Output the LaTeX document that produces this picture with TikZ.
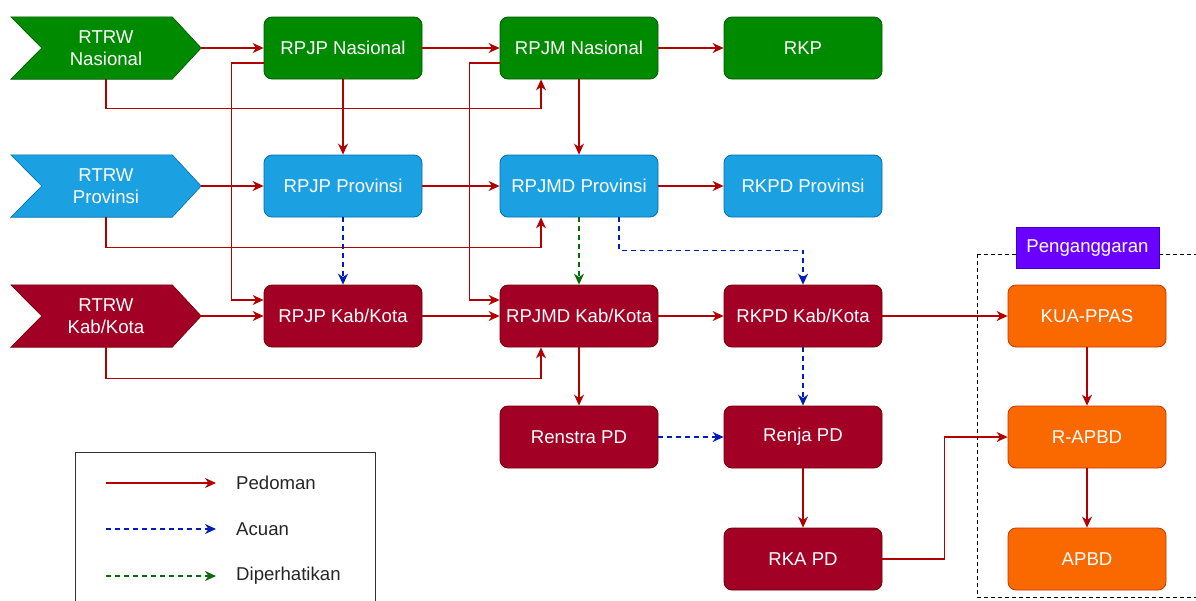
\documentclass[tikz,border=0pt]{standalone}
\usepackage{fontspec}
\setmainfont{Liberation Sans}
\usetikzlibrary{arrows.meta,calc}
\definecolor{gfill}{HTML}{008A00}
\definecolor{gline}{HTML}{005700}
\definecolor{bfill}{HTML}{1BA1E2}
\definecolor{bline}{HTML}{006EAF}
\definecolor{rfill}{HTML}{A20025}
\definecolor{rline}{HTML}{6F0000}
\definecolor{ofill}{HTML}{FA6800}
\definecolor{oline}{HTML}{C73500}
\definecolor{pfill}{HTML}{6A00FF}
\definecolor{pline}{HTML}{3700CC}
\definecolor{pedc}{HTML}{B20000}
\definecolor{acuc}{HTML}{001DBC}
\definecolor{perc}{HTML}{0B6B0B}
\tikzset{
  lbl/.style={font=\fontsize{18.6}{22}\selectfont, text=white, align=center},
  box/.style={lbl, rectangle, rounded corners=8pt, minimum width=158pt, minimum height=62pt, inner sep=0pt, line width=0.8pt},
  gbox/.style={box, fill=gfill, draw=gline},
  bbox/.style={box, fill=bfill, draw=bline},
  rbox/.style={box, fill=rfill, draw=rline},
  obox/.style={box, fill=ofill, draw=oline},
  chev/.style={lbl, rectangle, minimum width=190pt, minimum height=62pt, inner sep=0pt},
  tipA/.style={-{Stealth[length=11pt,width=10pt,inset=3.5pt]}},
  ped/.style={tipA, draw=pedc, line width=1.4pt},
  acu/.style={tipA, draw=acuc, line width=1.4pt, dash pattern=on 5pt off 4pt},
  per/.style={tipA, draw=perc, line width=1.4pt, dash pattern=on 5pt off 4pt},
  legtext/.style={font=\fontsize{18.6}{22}\selectfont, text=black!85, anchor=west, inner sep=0pt}
}
\newcommand{\chevronfill}[3]{%
  \fill[#2, draw=#3, line width=0.6pt] (#1.north west) -- ($(#1.north east)+(-29,0)$) -- (#1.east) -- ($(#1.south east)+(-29,0)$) -- (#1.south west) -- ($(#1.west)+(31,0)$) -- cycle;}
\begin{document}
\begin{tikzpicture}[x=1pt,y=1pt]
\useasboundingbox (0,0) rectangle (1196,-600);
% dashed container
\draw[black, line width=1pt, dash pattern=on 4pt off 3pt] (977,-254) rectangle (1210,-597);
% legend
\draw[fill=white, draw=black!80, line width=1pt] (75,-452) rectangle (375,-610);
\coordinate (l1a) at (106,-483); \coordinate (l1b) at (216,-483);
\coordinate (l2a) at (106,-529); \coordinate (l2b) at (216,-529);
\coordinate (l3a) at (106,-576); \coordinate (l3b) at (216,-576);
\draw[ped] (l1a) -- (l1b);
\draw[acu] (l2a) -- (l2b);
\draw[per] (l3a) -- (l3b);
\node[legtext] (lt1) at (236,-483) {Pedoman};
\node[legtext] (lt2) at (236,-529) {Acuan};
\node[legtext] (lt3) at (236,-576) {Diperhatikan};
% chevrons
\node[chev] (rtrwN) at (106,-48) {};
\node[chev] (rtrwP) at (106,-186) {};
\node[chev] (rtrwK) at (106,-316) {};
\chevronfill{rtrwN}{gfill}{gline}
\chevronfill{rtrwP}{bfill}{bline}
\chevronfill{rtrwK}{rfill}{rline}
\node[lbl] at (rtrwN) {RTRW\\Nasional};
\node[lbl] at (rtrwP) {RTRW\\Provinsi};
\node[lbl] at (rtrwK) {RTRW\\Kab/Kota};
% boxes
\node[gbox] (rpjpN) at (343,-48) {RPJP Nasional};
\node[gbox] (rpjmN) at (579,-48) {RPJM Nasional};
\node[gbox] (rkp) at (803,-48) {RKP};
\node[bbox] (rpjpP) at (343,-186) {RPJP Provinsi};
\node[bbox] (rpjmdP) at (579,-186) {RPJMD Provinsi};
\node[bbox] (rkpdP) at (803,-186) {RKPD Provinsi};
\node[rbox] (rpjpK) at (343,-316) {RPJP Kab/Kota};
\node[rbox] (rpjmdK) at (579,-316) {RPJMD Kab/Kota};
\node[rbox] (rkpdK) at (803,-316) {RKPD Kab/Kota};
\node[rbox] (renstra) at (579,-437) {Renstra PD};
\node[rbox] (renja) at (803,-437) {Renja PD};
\node[rbox] (rka) at (803,-559) {RKA PD};
\node[obox] (kua) at (1087,-316) {KUA-PPAS};
\node[obox] (rapbd) at (1087,-437) {R-APBD};
\node[obox] (apbd) at (1087,-559) {APBD};
\node[lbl, rectangle, fill=pfill, draw=pline, line width=0.8pt, minimum width=143pt, minimum height=41pt, inner sep=0pt] (peng) at (1087.5,-248) {Penganggaran};
% connectors row 1
\draw[ped] (rtrwN.east) -- (rpjpN.west);
\draw[ped] (rpjpN.east) -- (rpjmN.west);
\draw[ped] (rpjmN.east) -- (rkp.west);
\draw[ped] (rtrwN.south) -- ++(0,-29) -| ([xshift=-38pt]rpjmN.south);
\draw[ped] ([yshift=-15pt]rpjpN.west) -- ++(-32,0) |- ([yshift=16pt]rpjpK.west);
\draw[ped] ([yshift=-15pt]rpjmN.west) -- ++(-30,0) |- ([yshift=16pt]rpjmdK.west);
\draw[ped] (rpjpN.south) -- (rpjpP.north);
\draw[ped] (rpjmN.south) -- (rpjmdP.north);
% row 2
\draw[ped] (rtrwP.east) -- (rpjpP.west);
\draw[ped] (rpjpP.east) -- (rpjmdP.west);
\draw[ped] (rpjmdP.east) -- (rkpdP.west);
\draw[ped] (rtrwP.south) -- ++(0,-30) -| ([xshift=-38pt]rpjmdP.south);
\draw[acu] (rpjpP.south) -- (rpjpK.north);
\draw[per] (rpjmdP.south) -- (rpjmdK.north);
\draw[acu] ([xshift=40pt]rpjmdP.south) -- ++(0,-33) -| (rkpdK.north);
% row 3
\draw[ped] (rtrwK.east) -- (rpjpK.west);
\draw[ped] (rpjpK.east) -- (rpjmdK.west);
\draw[ped] (rpjmdK.east) -- (rkpdK.west);
\draw[ped] (rkpdK.east) -- (kua.west);
\draw[ped] (rtrwK.south) -- ++(0,-31) -| ([xshift=-38pt]rpjmdK.south);
\draw[ped] (rpjmdK.south) -- (renstra.north);
\draw[acu] (rkpdK.south) -- (renja.north);
% lower
\draw[acu] (renstra.east) -- (renja.west);
\draw[ped] (renja.south) -- (rka.north);
\draw[ped] (rka.east) -- ++(62,0) |- (rapbd.west);
\draw[ped] (kua.south) -- (rapbd.north);
\draw[ped] (rapbd.south) -- (apbd.north);
\end{tikzpicture}
\end{document}
